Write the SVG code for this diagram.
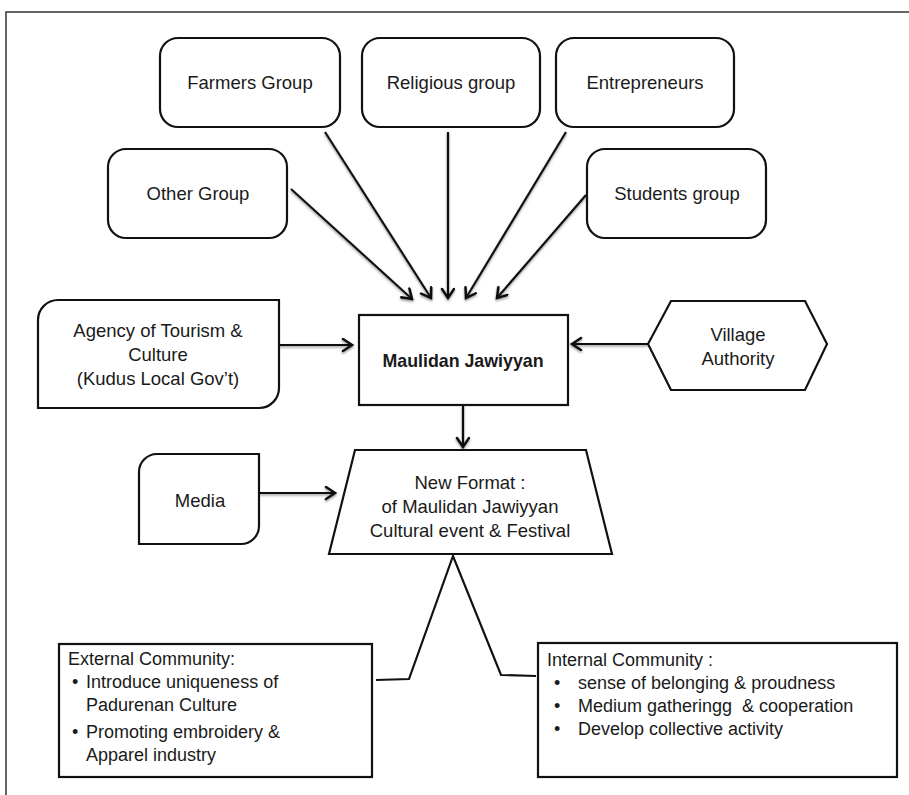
<svg xmlns="http://www.w3.org/2000/svg" width="909" height="795" viewBox="0 0 909 795">
  <style>
    .frame { fill: none; stroke: #333; stroke-width: 1.5; }
    .box { fill: #fff; stroke: #111; stroke-width: 2.2; }
    .lbl { font-family: "Liberation Sans", Arial, sans-serif; font-size: 18.5px; fill: #1a1a1a; text-anchor: middle; }
    .bold { font-weight: bold; font-size: 17.8px; }
    .lst { font-family: "Liberation Sans", Arial, sans-serif; font-size: 18px; fill: #1a1a1a; }
    .arrow { fill: none; stroke: #111; stroke-width: 2.2; marker-end: url(#head); }
    .leg { fill: none; stroke: #111; stroke-width: 2.2; stroke-linejoin: miter; }
  </style>
  <defs>
    <marker id="head" markerUnits="userSpaceOnUse" markerWidth="16" markerHeight="16" refX="11" refY="7" orient="auto">
      <path d="M2,1 L11,7 L2,13" fill="none" stroke="#111" stroke-width="2.6" stroke-linecap="round" stroke-linejoin="miter"/>
    </marker>
    <!-- soft shadow under the arrows; region in user space so straight lines keep it -->
    <filter id="shade" filterUnits="userSpaceOnUse" x="0" y="0" width="909" height="795">
      <feDropShadow dx="0" dy="1.5" stdDeviation="1.2" flood-color="#666" flood-opacity="0.7"/>
    </filter>
  </defs>

  <rect width="909" height="795" fill="#fff"/>
  <!-- page frame (top and left edges) -->
  <path class="frame" d="M6,795 V12 H909"/>

  <!-- connectors -->
  <g id="connectors">
    <g filter="url(#shade)">
      <line class="arrow" x1="291" y1="189" x2="412" y2="299"/>
      <line class="arrow" x1="325" y1="132" x2="431" y2="298"/>
      <line class="arrow" x1="448" y1="132" x2="448" y2="298"/>
      <line class="arrow" x1="566" y1="132" x2="466" y2="298"/>
      <line class="arrow" x1="586" y1="195" x2="497" y2="298"/>
      <line class="arrow" x1="279" y1="345" x2="352" y2="345"/>
      <line class="arrow" x1="648" y1="344" x2="572" y2="344"/>
      <line class="arrow" x1="463" y1="405" x2="463" y2="447"/>
      <line class="arrow" x1="259" y1="493" x2="335" y2="493"/>
    </g>
    <polyline class="leg" points="376,680 409,679 453,556 501,675 536,676"/>
  </g>

  <g id="farmers">
    <rect class="box" x="160" y="38" width="180" height="89" rx="18"/>
    <text class="lbl" x="250" y="89">Farmers Group</text>
  </g>
  <g id="religious">
    <rect class="box" x="362" y="38" width="178" height="89" rx="18"/>
    <text class="lbl" x="451" y="89">Religious group</text>
  </g>
  <g id="entrepreneurs">
    <rect class="box" x="556" y="38" width="178" height="89" rx="18"/>
    <text class="lbl" x="645" y="89">Entrepreneurs</text>
  </g>
  <g id="other">
    <rect class="box" x="108" y="149" width="179" height="89" rx="18"/>
    <text class="lbl" x="198" y="200">Other Group</text>
  </g>
  <g id="students">
    <rect class="box" x="587" y="149" width="179" height="89" rx="18"/>
    <text class="lbl" x="677" y="200">Students group</text>
  </g>

  <g id="agency">
    <path class="box" d="M58,300 H279 V388 A20,20 0 0 1 259,408 H38 V320 A20,20 0 0 1 58,300 Z"/>
    <text class="lbl" x="158" y="337">Agency of Tourism &amp;</text>
    <text class="lbl" x="158" y="361">Culture</text>
    <text class="lbl" x="158" y="385">(Kudus Local Gov’t)</text>
  </g>

  <g id="maulidan">
    <rect class="box" x="359" y="315" width="209" height="90"/>
    <text class="lbl bold" x="463" y="367">Maulidan Jawiyyan</text>
  </g>

  <g id="village">
    <polygon class="box" points="648,344 671,301 805,301 827,344 805,390 671,390"/>
    <text class="lbl" x="738" y="341">Village</text>
    <text class="lbl" x="738" y="365">Authority</text>
  </g>

  <g id="media">
    <path class="box" d="M157,454 H259 V526 A18,18 0 0 1 241,544 H139 V472 A18,18 0 0 1 157,454 Z"/>
    <text class="lbl" x="200" y="507">Media</text>
  </g>

  <g id="new-format">
    <polygon class="box" points="355,450 586,450 612,554 329,554"/>
    <text class="lbl" x="470" y="489">New Format :</text>
    <text class="lbl" x="470" y="513">of Maulidan Jawiyyan</text>
    <text class="lbl" x="470" y="537">Cultural event &amp; Festival</text>
  </g>

  <g id="external">
    <rect class="box" x="59" y="644" width="313" height="133"/>
    <text class="lst" x="68" y="665">External Community:</text>
    <text class="lst" x="72" y="688">•</text>
    <text class="lst" x="86" y="688">Introduce uniqueness of</text>
    <text class="lst" x="86" y="711">Padurenan Culture</text>
    <text class="lst" x="72" y="738">•</text>
    <text class="lst" x="86" y="738">Promoting embroidery &amp;</text>
    <text class="lst" x="86" y="761">Apparel industry</text>
  </g>

  <g id="internal">
    <rect class="box" x="538" y="643" width="359" height="134"/>
    <text class="lst" x="547" y="666">Internal Community :</text>
    <text class="lst" x="554" y="689">•</text>
    <text class="lst" x="578" y="689">sense of belonging &amp; proudness</text>
    <text class="lst" x="554" y="712">•</text>
    <text class="lst" x="578" y="712" xml:space="preserve">Medium gatheringg  &amp; cooperation</text>
    <text class="lst" x="554" y="735">•</text>
    <text class="lst" x="578" y="735">Develop collective activity</text>
  </g>
</svg>
